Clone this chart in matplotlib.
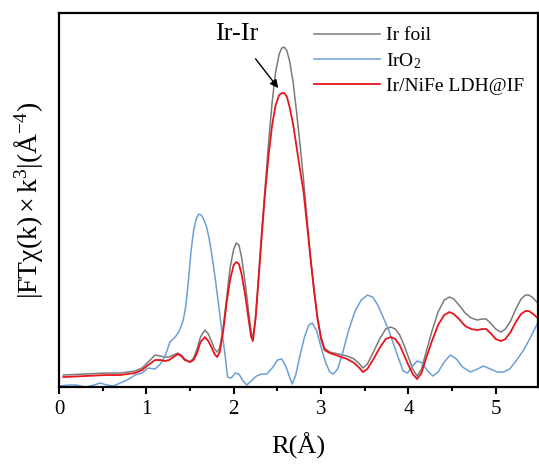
import matplotlib
matplotlib.use('Agg')
import matplotlib.pyplot as plt

plt.rcParams['font.family'] = ['Liberation Serif', 'DejaVu Serif']
plt.rcParams['mathtext.fontset'] = 'custom'
plt.rcParams['mathtext.rm'] = 'Liberation Serif'
plt.rcParams['mathtext.it'] = 'Liberation Serif:italic'

# R values shared by Ir foil and Ir/NiFe LDH@IF
r_ir = [0.05, 0.30, 0.53, 0.70, 0.87, 0.95, 1.02, 1.10, 1.16, 1.21, 1.26, 1.31, 1.36, 1.40, 1.44,
        1.50, 1.54, 1.58, 1.62, 1.67, 1.71, 1.75, 1.78, 1.81, 1.84, 1.88, 1.92, 1.96, 2.00, 2.03,
        2.06, 2.09, 2.13, 2.17, 2.20, 2.22, 2.25, 2.28, 2.32, 2.36, 2.40, 2.44, 2.48, 2.52, 2.55,
        2.58, 2.61, 2.64, 2.68, 2.72, 2.76, 2.80, 2.84, 2.88, 2.92, 2.96, 3.00, 3.04, 3.10, 3.20,
        3.30, 3.38, 3.44, 3.48, 3.53, 3.60, 3.67, 3.74, 3.80, 3.85, 3.90, 3.95, 4.00, 4.05, 4.10,
        4.15, 4.20, 4.27, 4.34, 4.41, 4.47, 4.52, 4.58, 4.65, 4.72, 4.79, 4.84, 4.89, 4.94, 5.00,
        5.06, 5.11, 5.17, 5.23, 5.29, 5.34, 5.38, 5.43, 5.48]

ir_foil = [1.2, 1.3, 1.4, 1.4, 1.6, 1.9, 2.5, 3.2, 3.1, 3.0, 3.0, 3.2, 3.4, 3.2, 2.8,
           2.5, 2.9, 3.8, 5.0, 5.7, 5.3, 4.5, 3.8, 3.5, 3.9, 6.0, 9.0, 12.0, 13.8, 14.4,
           14.2, 13.0, 10.5, 7.6, 5.5, 4.9, 7.0, 10.5, 15.5, 20.0, 24.5, 28.5, 31.5, 33.3, 33.9,
           34.0, 33.6, 32.6, 30.5, 27.5, 24.2, 20.7, 16.8, 13.0, 9.8, 7.0, 5.0, 3.9, 3.5, 3.3,
           3.1, 2.8, 2.3, 1.9, 2.3, 3.5, 4.8, 5.8, 6.0, 5.8, 5.2, 4.2, 3.0, 1.8, 1.1,
           1.8, 3.4, 5.6, 7.5, 8.7, 9.0, 8.8, 8.2, 7.4, 6.9, 6.7, 6.8, 6.8, 6.4, 5.8,
           5.5, 5.8, 6.6, 7.8, 8.8, 9.2, 9.2, 8.9, 8.4]

ir_ldh = [1.0, 1.1, 1.2, 1.2, 1.4, 1.7, 2.2, 2.7, 2.7, 2.6, 2.7, 3.0, 3.3, 3.1, 2.7,
          2.5, 2.7, 3.4, 4.5, 5.0, 4.6, 3.9, 3.3, 3.0, 3.5, 5.6, 8.5, 10.8, 12.2, 12.5,
          12.3, 11.3, 9.3, 6.8, 5.0, 4.6, 6.8, 10.2, 15.0, 19.5, 23.2, 26.2, 28.2, 29.2, 29.4,
          29.4, 29.0, 28.0, 26.3, 24.0, 21.7, 19.5, 16.2, 12.8, 9.6, 6.8, 4.8, 3.7, 3.4, 3.1,
          2.8, 2.4, 1.9, 1.5, 1.8, 2.8, 3.9, 4.8, 5.0, 4.8, 4.2, 3.2, 2.2, 1.3, 0.8,
          1.4, 2.8, 4.6, 6.2, 7.2, 7.5, 7.3, 6.8, 6.1, 5.8, 5.7, 5.8, 5.8, 5.4, 4.8,
          4.6, 4.8, 5.5, 6.5, 7.3, 7.6, 7.6, 7.3, 6.9]

# IrO2
r_oxide = [0.00, 0.10, 0.20, 0.30, 0.40, 0.47, 0.55, 0.62, 0.70, 0.78, 0.87, 0.95, 1.02, 1.10,
           1.16, 1.21, 1.27, 1.33, 1.37, 1.42, 1.45, 1.48, 1.51, 1.54, 1.57, 1.60, 1.63, 1.66,
           1.69, 1.72, 1.75, 1.78, 1.81, 1.84, 1.87, 1.90, 1.93, 1.97, 2.02, 2.06, 2.10, 2.15,
           2.20, 2.26, 2.32, 2.38, 2.45, 2.50, 2.55, 2.60, 2.64, 2.67, 2.71, 2.76, 2.81, 2.86,
           2.90, 2.95, 3.00, 3.05, 3.10, 3.14, 3.19, 3.25, 3.32, 3.39, 3.46, 3.53, 3.59, 3.65,
           3.71, 3.77, 3.83, 3.89, 3.94, 3.99, 4.04, 4.10, 4.16, 4.22, 4.28, 4.34, 4.41, 4.48,
           4.55, 4.62, 4.71, 4.79, 4.86, 4.94, 5.02, 5.09, 5.16, 5.24, 5.32, 5.40, 5.48]
iro2 = [0.1, 0.2, 0.2, 0.0, 0.2, 0.4, 0.2, 0.1, 0.4, 0.7, 1.2, 1.4, 1.9, 1.8,
        2.3, 3.0, 4.5, 5.0, 5.5, 6.6, 8.0, 10.5, 13.5, 15.6, 16.8, 17.3, 17.2, 16.7,
        16.0, 14.8, 13.2, 11.4, 9.4, 7.3, 5.2, 3.3, 1.0, 0.9, 1.4, 1.3, 0.7, 0.2,
        0.6, 1.1, 1.3, 1.3, 2.0, 2.7, 2.8, 2.0, 1.0, 0.3, 1.2, 3.2, 5.0, 6.2,
        6.4, 5.6, 4.0, 2.5, 1.5, 1.3, 1.8, 3.5, 5.8, 7.6, 8.7, 9.2, 9.0, 8.2,
        7.0, 5.8, 4.3, 2.8, 1.6, 1.4, 2.0, 2.6, 2.4, 1.6, 1.1, 1.5, 2.5, 3.2,
        2.8, 2.0, 1.5, 1.8, 2.1, 1.8, 1.5, 1.5, 1.8, 2.7, 3.7, 5.0, 6.4]

fig = plt.figure(figsize=(5.39, 4.68), dpi=100)
ax = fig.add_axes([0.1095, 0.173, 0.888, 0.799])

ax.plot(r_ir, ir_foil, color='#7a7a7a', lw=1.1, label='Ir foil')
ax.plot(r_oxide, iro2, color='#6b9fd6', lw=1.1, label='IrO$_2$')
ax.plot(r_ir, ir_ldh, color='#e8141c', lw=1.3, label='Ir/NiFe LDH@IF')

ax.annotate('Ir-Ir', xy=(2.51, 29.9), xytext=(2.03, 35.3), fontsize=19,
            ha='center', va='center',
            arrowprops=dict(arrowstyle='-|>', color='black', lw=1.0,
                            mutation_scale=12, shrinkA=10, shrinkB=0))

ax.set_xlim(0, 5.48)
ax.set_ylim(0, 37.4)
ax.set_xticks([0, 1, 2, 3, 4, 5])
ax.set_xticks([0.5, 1.5, 2.5, 3.5, 4.5], minor=True)
ax.set_yticks([])
ax.tick_params(axis='x', direction='out', length=5, width=1.5, labelsize=15, pad=4)
ax.tick_params(axis='x', which='minor', direction='out', length=3, width=1.5)
for s in ax.spines.values():
    s.set_linewidth(1.6)

ax.set_xlabel('R(Å)', fontsize=19, labelpad=10)
ax.set_ylabel(r'$\mathrm{|FT\chi(k)\times k^3|(\AA^{-4})}$', fontsize=20, labelpad=10)

ax.legend(loc='upper right', frameon=False, fontsize=14, handlelength=3.4,
          handletextpad=0.3, labelspacing=0.35, borderaxespad=0.3,
          bbox_to_anchor=(1.0, 1.0))

fig.savefig('out.png', dpi=100)
